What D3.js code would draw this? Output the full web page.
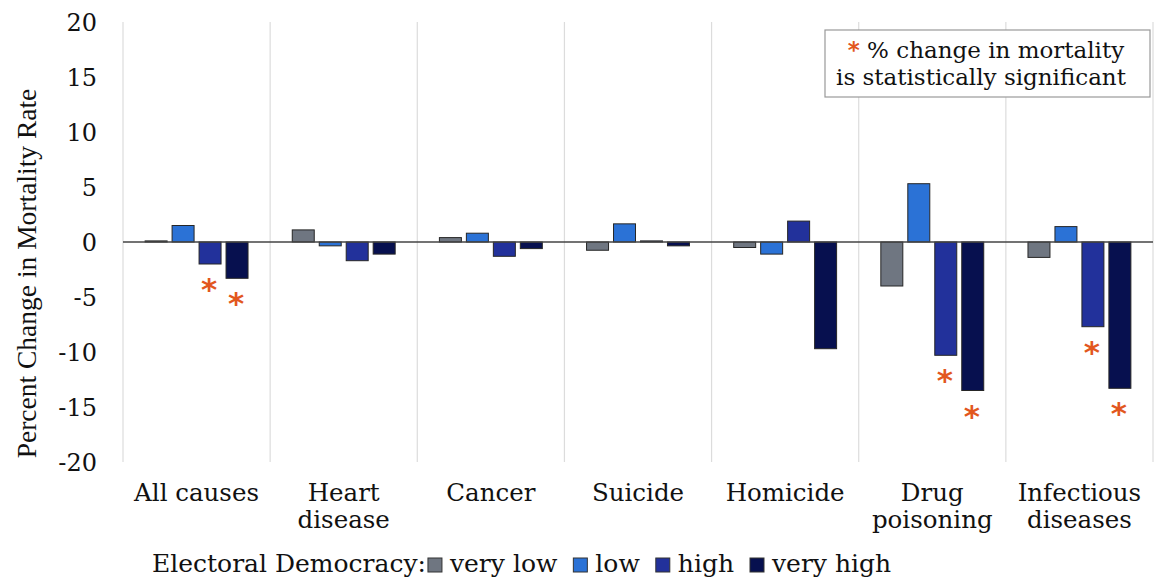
<!DOCTYPE html>
<html>
<head>
<meta charset="utf-8">
<script src="https://cdn.jsdelivr.net/npm/d3@7"></script>
<style>
  html, body { margin: 0; padding: 0; background: #fff; }
  svg { display: block; }
  text { font-family: "DejaVu Serif", Georgia, serif; fill: #111; }
</style>
</head>
<body>
<svg id="chart" width="1154" height="580"></svg>
<script>
// data
var categories = ["All causes", "Heart disease", "Cancer", "Suicide", "Homicide", "Drug poisoning", "Infectious diseases"];
var categoryLines = [["All causes"], ["Heart", "disease"], ["Cancer"], ["Suicide"], ["Homicide"], ["Drug", "poisoning"], ["Infectious", "diseases"]];
var series = ["very low", "low", "high", "very high"];
var seriesColors = ["#6f7681", "#2b72d6", "#22319b", "#07104f"];

var veryLow  = [0.1, 1.1, 0.4, -0.75, -0.5, -4.0, -1.4];
var low      = [1.5, -0.35, 0.8, 1.65, -1.1, 5.3, 1.4];
var high     = [-2.0, -1.7, -1.3, 0.1, 1.9, -10.3, -7.7];
var veryHigh = [-3.3, -1.1, -0.6, -0.35, -9.7, -13.5, -13.3];

// significant changes (marked with an asterisk)
var sigHigh     = [true, false, false, false, false, true, true];
var sigVeryHigh = [true, false, false, false, false, true, true];

var yTicks = [20, 15, 10, 5, 0, -5, -10, -15, -20];

var svg = d3.select("#chart");

var plotLeft = 123, plotRight = 1153, plotTop = 22, plotBottom = 462;

var x = d3.scaleBand().domain(categories).range([plotLeft, plotRight]).padding(0);
var xs = d3.scaleBand().domain(series).range([0, x.bandwidth()])
	.paddingInner(0.185).paddingOuter(0.82);
var y = d3.scaleLinear().domain([-20, 20]).range([plotBottom, plotTop]);

var values = [veryLow, low, high, veryHigh];
var sigs = [null, null, sigHigh, sigVeryHigh];

// vertical separators between categories
var bounds = categories.map(function(c) { return x(c); }).concat([plotRight]);
svg.append("g").selectAll("line").data(bounds).join("line")
	.attr("x1", function(d) { return d; }).attr("x2", function(d) { return d; })
	.attr("y1", plotTop).attr("y2", plotBottom)
	.attr("stroke", "#dcdcdc").attr("stroke-width", 1.2);

// y tick labels
svg.append("g").selectAll("text").data(yTicks).join("text")
	.attr("x", 97).attr("y", function(d) { return y(d); })
	.attr("dy", "0.36em")
	.attr("text-anchor", "end")
	.style("font-size", "24px")
	.text(function(d) { return d; });

// y title
svg.append("text")
	.attr("transform", "translate(36," + ((85 + plotBottom) / 2) + ") rotate(-90)")
	.attr("text-anchor", "middle")
	.style("font-family", "'Liberation Serif', 'Times New Roman', serif")
	.style("font-size", "27.5px")
	.text("Percent Change in Mortality Rate");

// bars
var rows = [];
series.forEach(function(s, si) {
	categories.forEach(function(c, ci) {
		rows.push({ s: s, si: si, c: c, v: values[si][ci], sig: sigs[si] ? sigs[si][ci] : false });
	});
});

svg.append("g").selectAll("rect").data(rows).join("rect")
	.attr("x", function(d) { return x(d.c) + xs(d.s); })
	.attr("y", function(d) { return y(Math.max(0, d.v)); })
	.attr("width", xs.bandwidth())
	.attr("height", function(d) { return Math.abs(y(d.v) - y(0)); })
	.attr("fill", function(d) { return seriesColors[d.si]; })
	.attr("stroke", "#262626").attr("stroke-width", 1);

// zero line
svg.append("line")
	.attr("x1", plotLeft).attr("x2", plotRight)
	.attr("y1", y(0)).attr("y2", y(0))
	.attr("stroke", "#444").attr("stroke-width", 1.3);

// significance asterisks
svg.append("g").selectAll("text").data(rows.filter(function(d) { return d.sig; })).join("text")
	.attr("x", function(d) { return x(d.c) + xs(d.s) + xs.bandwidth() / 2 - 1; })
	.attr("y", function(d) { return y(d.v) + 36; })
	.attr("text-anchor", "middle")
	.style("font-family", "'DejaVu Sans', sans-serif")
	.style("font-weight", "bold")
	.style("font-size", "31px")
	.style("fill", "#e2571e")
	.text("*");

// category labels
var cat = svg.append("g").selectAll("text").data(categories).join("text")
	.attr("x", function(d) { return x(d) + x.bandwidth() / 2; })
	.attr("y", 501)
	.attr("text-anchor", "middle")
	.style("font-size", "24.5px");
cat.selectAll("tspan").data(function(d, i) { return categoryLines[i]; }).join("tspan")
	.attr("x", function() { return d3.select(this.parentNode).attr("x"); })
	.attr("dy", function(d, i) { return i === 0 ? 0 : 27; })
	.text(function(d) { return d; });

// significance note box
var note = svg.append("g");
note.append("rect")
	.attr("x", 825).attr("y", 30).attr("width", 325).attr("height", 67)
	.attr("fill", "#fff").attr("stroke", "#999").attr("stroke-width", 1.2);
var l1 = note.append("text").attr("x", 986).attr("y", 58)
	.attr("text-anchor", "middle")
	.style("font-size", "23px");
l1.append("tspan")
	.style("font-family", "'DejaVu Sans', sans-serif")
	.style("font-weight", "bold")
	.style("fill", "#e2571e")
	.text("*");
l1.append("tspan").text(" % change in mortality");
note.append("text").attr("x", 981).attr("y", 85)
	.attr("text-anchor", "middle").style("font-size", "23px")
	.text("is statistically significant");

// bottom legend
var leg = svg.append("g").style("font-size", "25px");
var lx = 152, ly = 572;
var head = leg.append("text").attr("x", lx).attr("y", ly).text("Electoral Democracy:");
lx += head.node().getComputedTextLength() + 2;
series.forEach(function(s, i) {
	leg.append("rect")
		.attr("x", lx).attr("y", ly - 14).attr("width", 14).attr("height", 14)
		.attr("fill", seriesColors[i]).attr("stroke", "#333").attr("stroke-width", 1);
	lx += 22;
	var t = leg.append("text").attr("x", lx).attr("y", ly).text(s);
	lx += t.node().getComputedTextLength() + 16;
});
</script>
</body>
</html>
